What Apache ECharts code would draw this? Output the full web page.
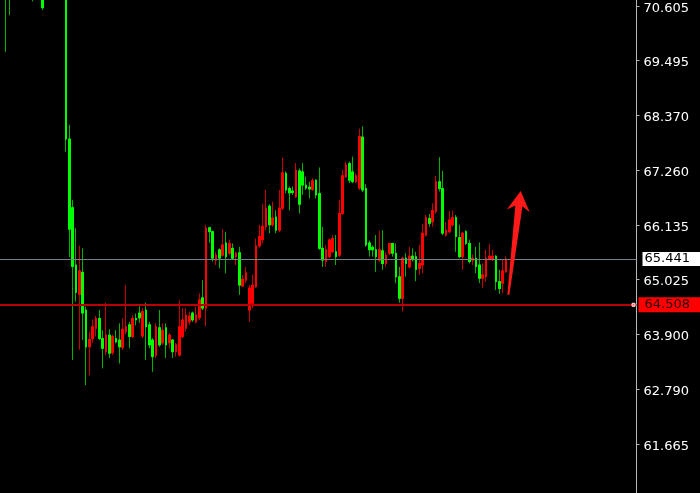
<!DOCTYPE html>
<html>
<head>
<meta charset="utf-8">
<script src="https://cdn.jsdelivr.net/npm/echarts@6/dist/echarts.min.js"></script>
<style>
html,body{margin:0;padding:0;background:#000;}
#c{width:700px;height:493px;}
</style>
</head>
<body>
<div id="c"></div>
<script>
// ---- data (open / close / low / high per bar) ----
const opens = [71.20,71.10,71.15,71.30,71.10,71.25,71.05,71.18,70.98,70.88,71.02,70.92,70.85,71.00,71.15,71.05,71.20,71.10,71.05,67.89,
66.49,65.32,64.72,65.17,64.40,63.65,63.82,64.03,64.23,63.82,
63.55,63.89,63.53,63.82,63.79,63.64,63.96,64.10,63.86,64.23,
64.34,63.87,64.40,64.10,63.79,63.48,64.04,63.73,64.04,63.73,
63.79,63.55,63.48,63.86,64.03,64.16,64.34,64.16,64.24,64.65,
64.44,66.08,66.00,65.42,65.63,65.52,65.77,65.56,65.66,65.49,
65.57,64.89,65.01,64.40,64.54,64.88,65.71,65.84,66.10,66.52,
66.14,66.30,66.03,66.48,67.19,66.88,66.83,66.71,67.24,67.22,
66.95,66.91,66.86,67.05,66.78,65.66,65.39,65.49,65.59,65.59,
65.52,66.37,67.12,67.39,67.22,67.02,66.89,67.93,66.88,65.77,
65.68,65.63,65.42,65.61,65.35,65.56,65.76,65.56,65.08,64.64,
65.46,65.28,65.50,65.49,65.25,65.32,65.93,66.27,66.20,66.41,
67.02,66.88,65.93,66.00,66.14,66.29,65.88,65.49,66.00,65.76,
65.42,65.46,65.32,65.05,65.08,65.43,65.43,65.50,64.98,64.95,
65.18];
const closes = [70.95,70.90,71.30,71.10,71.25,71.05,71.18,70.98,70.88,71.02,70.92,70.57,71.00,71.15,71.05,71.20,71.10,71.05,67.89,66.05,
65.29,64.76,65.20,64.34,63.65,63.80,64.06,64.23,63.82,63.62,
63.89,63.52,63.86,63.75,63.65,64.01,64.06,63.86,64.23,64.20,
64.24,64.37,64.06,63.69,63.45,64.06,63.69,63.99,63.69,63.89,
63.55,63.69,64.06,64.20,64.30,64.28,64.20,64.30,64.61,64.44,
66.07,66.00,65.46,65.52,65.46,65.73,65.49,65.76,65.46,65.56,
64.91,65.03,65.16,64.85,64.91,65.71,65.90,66.11,66.48,66.14,
66.28,66.03,66.48,67.20,66.85,66.79,66.80,67.25,66.56,66.95,
66.89,66.87,67.04,66.75,65.66,65.42,65.63,65.83,65.86,65.49,
66.37,67.14,67.36,67.05,67.02,67.14,67.94,66.85,65.73,65.63,
65.63,65.49,65.63,65.35,65.52,65.76,65.56,65.08,64.64,65.46,
65.35,65.50,65.43,65.23,65.35,65.97,66.29,66.17,66.43,67.02,
66.88,65.97,66.03,66.24,66.29,65.90,65.49,65.97,65.76,65.39,
65.46,65.29,65.05,65.12,65.46,65.50,65.50,64.98,64.84,65.20,
65.441];
const lows = [69.67,70.42,70.98,70.95,70.96,70.90,70.92,70.85,70.70,70.80,70.82,70.52,70.80,70.95,70.95,71.00,70.98,70.90,67.63,65.48,
63.38,64.57,63.59,63.79,62.87,63.07,63.73,63.86,63.79,63.21,
63.48,63.42,63.48,63.72,63.31,63.59,63.91,63.62,63.83,64.09,
64.14,63.83,63.38,63.62,63.14,63.42,63.65,63.69,63.42,63.62,
63.42,63.45,63.45,63.83,63.96,64.10,64.16,64.13,64.20,64.40,
64.07,65.77,65.39,65.32,65.25,65.49,65.15,65.52,65.42,65.32,
64.71,64.88,64.95,64.16,64.44,64.85,65.67,65.76,66.03,65.97,
66.10,65.97,65.99,66.44,66.78,66.44,66.75,66.69,66.37,66.75,
66.85,66.68,66.83,66.68,65.63,65.28,65.28,65.46,65.56,65.32,
65.48,66.34,67.10,66.99,66.99,66.99,66.85,66.81,65.69,65.49,
65.49,65.18,65.38,65.22,65.28,65.52,65.49,64.95,64.55,64.37,
65.08,65.25,65.39,64.99,65.12,65.15,65.90,66.10,66.10,66.37,
66.82,65.93,65.90,65.97,66.10,65.59,65.46,65.22,65.73,65.35,
65.32,65.15,64.95,64.85,64.98,65.42,65.40,64.81,64.73,64.74,
65.16];
const highs = [71.40,71.35,71.45,71.50,71.40,71.35,71.30,71.28,71.10,71.12,71.15,71.00,71.10,71.25,71.30,71.30,71.28,71.20,71.15,68.18,
66.65,66.07,65.71,65.66,64.47,63.96,64.21,64.28,64.40,63.99,
64.55,64.01,63.90,63.99,64.13,64.23,64.91,64.16,64.30,64.33,
64.48,64.44,64.55,64.16,63.83,64.13,64.40,64.13,64.13,63.93,
63.81,63.73,64.60,64.44,64.44,64.37,64.37,64.47,64.74,65.01,
66.14,66.10,66.02,65.59,65.66,66.05,66.00,65.84,65.76,65.59,
65.69,65.12,65.28,64.91,65.12,65.86,66.14,66.56,66.85,66.56,
66.61,66.44,66.85,67.51,67.23,66.92,66.92,67.40,67.29,67.40,
67.12,67.02,67.09,67.07,67.31,66.10,65.73,65.86,65.93,65.93,
66.65,67.26,67.43,67.43,67.53,67.19,68.10,68.15,66.97,65.82,
65.72,65.93,66.01,66.03,65.59,65.77,65.77,65.76,65.28,65.49,
65.56,65.69,65.66,65.59,65.73,66.16,66.34,66.36,66.58,67.14,
67.52,67.24,66.20,66.42,66.43,66.34,66.14,66.00,66.03,65.84,
65.54,65.69,65.78,65.35,65.63,65.75,65.63,65.52,65.22,65.42,
65.50];
const tickValues = [70.605,69.495,68.370,67.260,66.135,65.025,63.900,62.790,61.665,60.555];
const bidLevel = 65.441;
const supportLevel = 64.508;
const yMin = 60.26, yMax = 70.727;     // visible price window (bottom runs slightly past the frame)
const labelShift = 0.05;               // labels sit a touch below their tick marks
const xMin = -1.8, xMax = 189.15;      // visible bar-index window (empty space on the right)
// arrow annotation in data space: [bar index, price]
const arrowBase = [150.7, 64.71];
const arrowTip = [154.4, 66.83];

// ---- build ----
const wickData = opens.map((o, i) => [i, o, closes[i], lows[i], highs[i]]);
const bodyData = opens.map((o, i) => [i, o, closes[i], Math.min(o, closes[i]), Math.max(o, closes[i])]);

const chart = echarts.init(document.getElementById('c'), null, {renderer: 'canvas'});
const FONT = '"DejaVu Sans", Verdana, sans-serif';
chart.setOption({
  backgroundColor: '#000000',
  animation: false,
  grid: {left: 0, right: 63.5, top: 0, height: 513, outerBoundsMode: 'none', containLabel: false},
  xAxis: {type: 'value', min: xMin, max: xMax, show: false, splitLine: {show: false}},
  yAxis: [{
    type: 'value', position: 'right', min: yMin, max: yMax, scale: true,
    axisLine: {show: true, onZero: false, lineStyle: {color: '#b8b8b8', width: 1}},
    axisTick: {show: true, customValues: tickValues, length: 3, lineStyle: {color: '#b8b8b8'}},
    axisLabel: {show: false},
    splitLine: {show: false}
  }, {
    type: 'value', position: 'right', min: yMin + labelShift, max: yMax + labelShift, scale: true,
    axisLine: {show: false, onZero: false},
    axisTick: {show: false},
    axisLabel: {show: true, customValues: tickValues, color: '#ffffff', fontSize: 13, fontFamily: FONT, margin: 7,
      formatter: v => v.toFixed(3)},
    splitLine: {show: false}
  }],
  series: [
    {
      type: 'candlestick', name: 'wick', data: wickData, barWidth: 2, clip: true,
      encode: {x: 0, y: [1, 2, 3, 4]},
      itemStyle: {color: '#00b400', color0: '#00b400', borderColor: '#c80000', borderColor0: '#00b400', borderWidth: 1}
    },
    {
      type: 'candlestick', name: 'body', data: bodyData, barWidth: 2, clip: true,
      encode: {x: 0, y: [1, 2, 3, 4]},
      itemStyle: {color: '#ff0000', color0: '#00ff00', borderColor: '#ff0000', borderColor0: '#00ff00', borderWidth: 1},
      markLine: {
        silent: true, symbol: ['none', 'none'], animation: false,
        data: [
          {yAxis: bidLevel, lineStyle: {color: '#76808c', width: 1, type: 'solid'},
           label: {position: 'end', distance: 6, formatter: bidLevel.toFixed(3), color: '#000', backgroundColor: '#ffffff',
             fontSize: 13, fontFamily: FONT, padding: [1, 12, 0, 2]}},
          {yAxis: supportLevel, lineStyle: {color: '#b80000', width: 2, type: 'solid'},
           label: {position: 'end', distance: 2, formatter: supportLevel.toFixed(3), color: '#2a0000', backgroundColor: '#ff0000',
             fontSize: 13, fontFamily: FONT, padding: [1, 12, 1, 6]}}
        ]
      }
    }
  ]
});

function drawOverlays() {
  const B = chart.convertToPixel({xAxisIndex: 0, yAxisIndex: 0}, arrowBase);
  const T = chart.convertToPixel({xAxisIndex: 0, yAxisIndex: 0}, arrowTip);
  const dx = T[0] - B[0], dy = T[1] - B[1];
  const len = Math.sqrt(dx * dx + dy * dy);
  const d = [dx / len, dy / len], n = [-d[1], d[0]];
  const h = 20, hw = 11.5, sw0 = 1, sw1 = 3.6, notch = 5;
  const P = (p, a, b) => [p[0] + d[0] * a + n[0] * b, p[1] + d[1] * a + n[1] * b];
  const pts = [
    P(B, 0, -sw0), P(T, -(h - notch), -sw1), P(T, -h, -hw), T, P(T, -h, hw), P(T, -(h - notch), sw1), P(B, 0, sw0)
  ];
  // small handle marker at the right end of the support line
  const M = chart.convertToPixel({xAxisIndex: 0, yAxisIndex: 0}, [xMax, supportLevel]);
  chart.setOption({graphic: [
    {type: 'polygon', shape: {points: pts}, style: {fill: '#ff1a1a'}, z: 100},
    {type: 'rect', shape: {x: M[0] - 4.5, y: M[1] - 1.5, width: 3, height: 3},
     style: {fill: '#ff7070', stroke: '#ffe0e0', lineWidth: 1}, z: 100}
  ]});
}
drawOverlays();
</script>
</body>
</html>
